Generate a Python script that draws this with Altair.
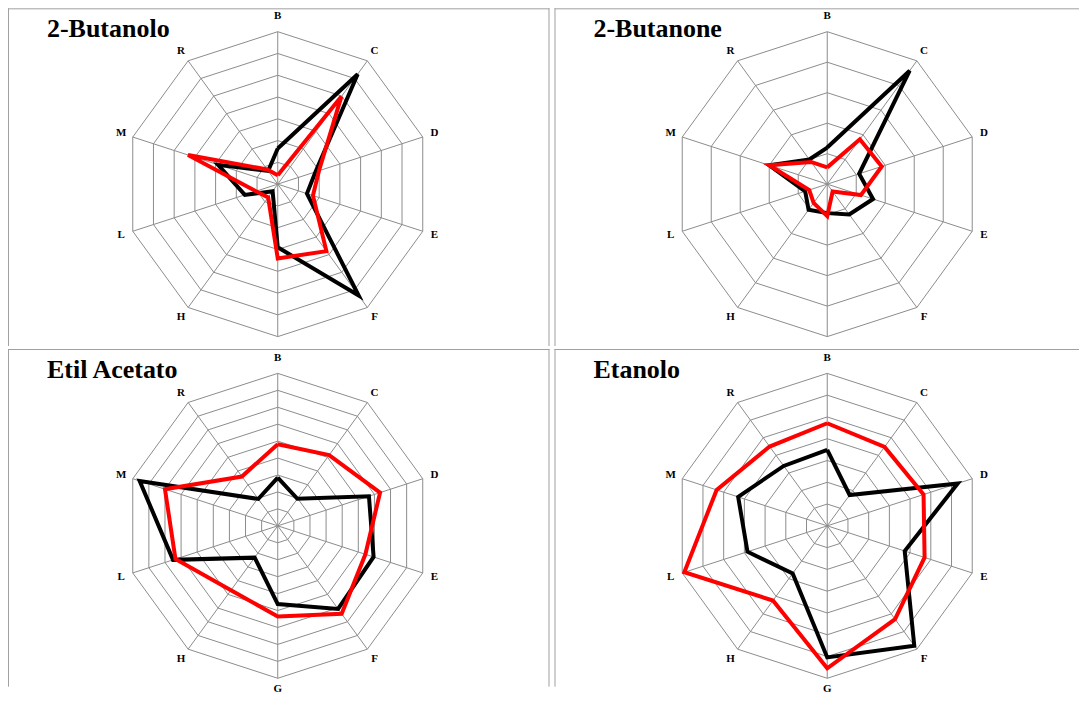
import math
import altair as alt
import pandas as pd

# ---------------- data (values in grid-ring units) ----------------
categories = ["B", "C", "D", "E", "F", "G", "H", "L", "M", "R"]
titles = ["2-Butanolo", "2-Butanone", "Etil Acetato", "Etanolo"]
ring_counts = [7, 5, 9, 7]

butanolo_black = [1.64, 6.24, 1.82, 1.41, 6.32, 2.9, 0.4, 1.59, 2.88, 0.75]
butanolo_red = [0.41, 4.97, 1.99, 1.7, 3.8, 3.41, 0.75, 1.05, 4.33, 0.83]

butanone_black = [1.2, 4.6, 1.1, 1.58, 1.23, 0.95, 1.04, 0.76, 2.0, 1.0]
butanone_red = [0.55, 1.82, 1.88, 1.16, 0.3, 1.05, 0.76, 0.62, 2.0, 0.9]

etilacetato_black = [2.85, 1.97, 5.66, 5.95, 6.06, 4.62, 2.32, 6.5, 8.57, 1.96]
etilacetato_red = [4.82, 5.16, 6.35, 5.44, 6.42, 5.35, 4.7, 6.35, 7.0, 3.6]

etanolo_black = [3.49, 1.75, 6.3, 3.74, 6.8, 6.04, 2.7, 3.85, 4.3, 3.4]
etanolo_red = [4.71, 4.48, 4.65, 4.7, 5.3, 6.54, 4.24, 6.9, 5.34, 4.5]

# ---------------- style ----------------
R_PX = 152.6
GRID = "#8c8c8c"
BORDER = "#a0a0a0"
FONT = "Liberation Serif, 'Times New Roman', Times, 'DejaVu Serif', serif"
label_r = {"B": 1.10, "G": 1.07}


def angle(i):
    return math.radians(36 * i)


def make_panel(title, n_rings, black, red, W, H, cx, cy, right_border, show_g):
    xsc = alt.Scale(domain=[-cx / R_PX, (W - cx) / R_PX], nice=False, zero=False)
    ysc = alt.Scale(domain=[-(H - cy) / R_PX, cy / R_PX], nice=False, zero=False)

    def X(f):
        return alt.X(f, type="quantitative", scale=xsc, axis=None)

    def Y(f):
        return alt.Y(f, type="quantitative", scale=ysc, axis=None)

    ring_rows = []
    for k in range(1, n_rings + 1):
        for j in range(11):
            a = angle(j % 10)
            ring_rows.append({"ring": k, "j": j,
                              "x": k / n_rings * math.sin(a),
                              "y": k / n_rings * math.cos(a)})
    rings = alt.Chart(pd.DataFrame(ring_rows)).mark_line(
        color=GRID, strokeWidth=1
    ).encode(x=X("x"), y=Y("y"), detail="ring:N", order="j:Q")

    spoke_rows = [{"x0": 0.0, "y0": 0.0,
                   "x1": math.sin(angle(i)), "y1": math.cos(angle(i))}
                  for i in range(10)]
    spokes = alt.Chart(pd.DataFrame(spoke_rows)).mark_rule(
        color=GRID, strokeWidth=1
    ).encode(x=X("x0"), y=Y("y0"), x2=alt.X2("x1"), y2=alt.Y2("y1"))

    def series_df(vals):
        rows = []
        for j in range(11):
            i = j % 10
            r = vals[i] / n_rings
            rows.append({"j": j, "x": r * math.sin(angle(i)), "y": r * math.cos(angle(i))})
        return pd.DataFrame(rows)

    black_line = alt.Chart(series_df(black)).mark_line(
        color="#000000", strokeWidth=4, strokeJoin="miter"
    ).encode(x=X("x"), y=Y("y"), order="j:Q")
    red_line = alt.Chart(series_df(red)).mark_line(
        color="#ff0000", strokeWidth=4, strokeJoin="miter"
    ).encode(x=X("x"), y=Y("y"), order="j:Q")

    lab_rows = []
    for i, c in enumerate(categories):
        if c == "G" and not show_g:
            continue  # hidden below the panel edge in the original
        rr = label_r.get(c, 1.08)
        lab_rows.append({"cat": c, "x": rr * math.sin(angle(i)), "y": rr * math.cos(angle(i))})
    labels = alt.Chart(pd.DataFrame(lab_rows)).mark_text(
        font=FONT, fontWeight="bold", fontSize=11, color="black",
        baseline="middle", align="center"
    ).encode(x=X("x"), y=Y("y"), text="cat:N")

    one = pd.DataFrame({"t": [title]})
    title_mark = alt.Chart(one).mark_text(
        font=FONT, fontWeight="bold", fontSize=26, color="black",
        align="left", baseline="alphabetic"
    ).encode(x=alt.value(41), y=alt.value(31), text="t:N")

    borders = [
        alt.Chart(one).mark_rule(color=BORDER, strokeWidth=1).encode(
            x=alt.value(2.5), y=alt.value(2), y2=alt.value(H)),
        alt.Chart(one).mark_rule(color=BORDER, strokeWidth=1).encode(
            x=alt.value(2), x2=alt.value(W), y=alt.value(2.5)),
    ]
    if right_border:
        borders.append(alt.Chart(one).mark_rule(color=BORDER, strokeWidth=1).encode(
            x=alt.value(W - 0.5), y=alt.value(2), y2=alt.value(H)))

    return alt.layer(*borders, rings, spokes, black_line, red_line, labels, title_mark).properties(
        width=W, height=H)


WL, WR = 544, 527
HT, HB = 340, 340

p1 = make_panel(titles[0], ring_counts[0], butanolo_black, butanolo_red, WL, HT, 272, 178, True, False)
p2 = make_panel(titles[1], ring_counts[1], butanone_black, butanone_red, WR, HT, 275, 178, False, False)
p3 = make_panel(titles[2], ring_counts[2], etilacetato_black, etilacetato_red, WL, HB, 272, 179, True, True)
p4 = make_panel(titles[3], ring_counts[3], etanolo_black, etanolo_red, WR, HB, 275, 179, False, True)

top = alt.hconcat(p1, p2, spacing=3, bounds="flush").resolve_scale(x="independent", y="independent")
bottom = alt.hconcat(p3, p4, spacing=3, bounds="flush").resolve_scale(x="independent", y="independent")

chart = alt.vconcat(top, bottom, spacing=0).resolve_scale(
    x="independent", y="independent"
).properties(
    padding={"left": -2, "top": -2, "right": 0, "bottom": 0}
).configure_view(stroke=None)

chart.save("out.html", embed_options={"renderer": "svg", "actions": False})
